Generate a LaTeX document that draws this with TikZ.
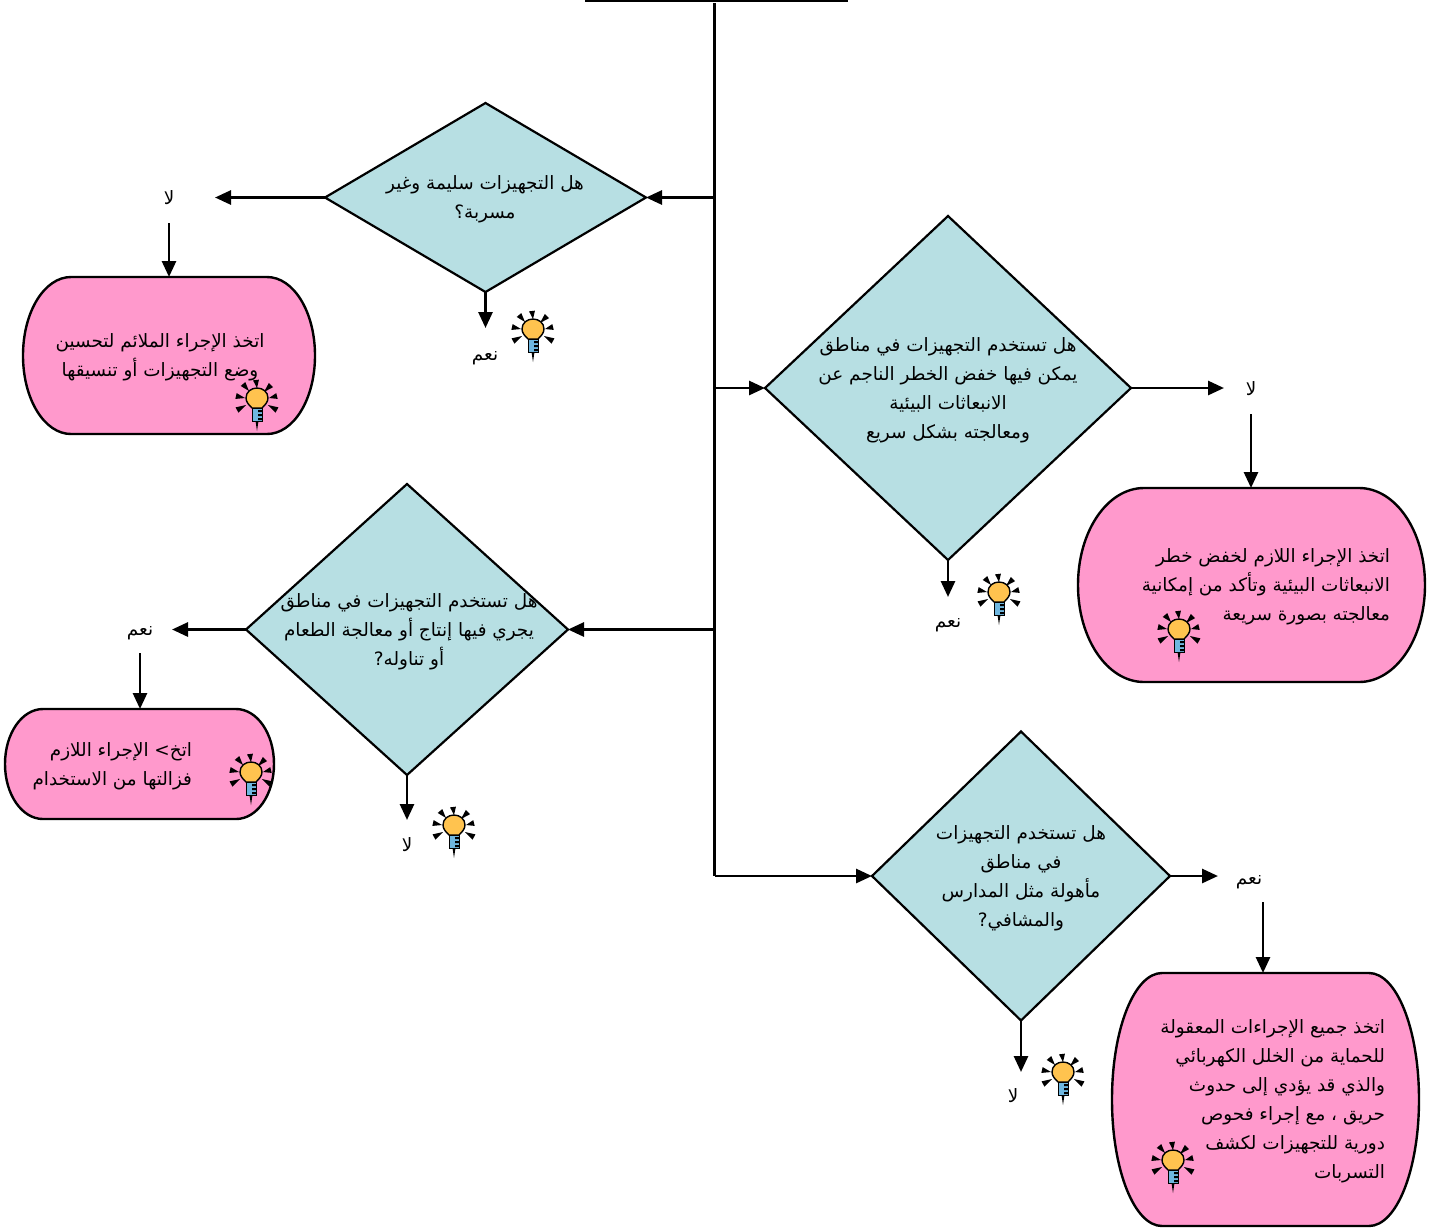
\documentclass[tikz,border=0pt]{standalone}
\usepackage{fontspec}
\usetikzlibrary{shapes.geometric,arrows.meta,calc}
\TeXXeTstate=1
\newfontfamily\arabicfont[Script=Arabic]{DejaVu Sans}
\definecolor{diafill}{HTML}{B7DFE3}
\definecolor{termfill}{HTML}{FF99CC}
\definecolor{bulbfill}{HTML}{FFC34F}
\definecolor{bulbbase}{HTML}{6FB7E0}
\newcommand{\ar}[1]{\beginR #1\endR}
\tikzset{
  line/.style={line width=1.4pt,black},
  arr/.style={line,-{Triangle[length=8pt,width=7pt]}},
  dia/.style={diamond,draw=black,line width=1.1pt,fill=diafill,inner sep=0pt,outer sep=0pt},
  lab/.style={inner sep=0pt,outer sep=0pt,font=\arabicfont\fontsize{9.2}{14.5}\selectfont,align=center},
  txt/.style={inner sep=0pt,outer sep=0pt,font=\arabicfont\fontsize{9.2}{14.5}\selectfont,align=center},
  txtr/.style={txt,align=right,anchor=east},
  termbox/.style={rectangle,inner sep=0pt,outer sep=0pt},
  termline/.style={draw=black,line width=1.2pt,fill=termfill}
}
% name, left, top, right, bottom, corner inset
\newcommand{\termshape}[6]{%
  \node[termbox,minimum width=#4*0.5pt-#2*0.5pt,minimum height=#5*0.5pt-#3*0.5pt] (#1) at ({(#2+#4)/2},{(#3+#5)/2}) {};
  \path[termline] ({#2+#6},#3) -- ({#4-#6},#3)
    .. controls ({#4-0.45*#6},#3) and (#4,{#3+0.22*(#5-#3)}) .. (#4,{(#3+#5)/2})
    .. controls (#4,{#5-0.22*(#5-#3)}) and ({#4-0.45*#6},#5) .. ({#4-#6},#5)
    -- ({#2+#6},#5)
    .. controls ({#2+0.45*#6},#5) and (#2,{#5-0.22*(#5-#3)}) .. (#2,{(#3+#5)/2})
    .. controls (#2,{#3+0.22*(#5-#3)}) and ({#2+0.45*#6},#3) .. ({#2+#6},#3) -- cycle;
}
\newcommand{\bulbicon}[2]{%
  \begin{scope}[shift={(#1,#2)}]
    \foreach \ox/\oy/\ix/\iy in {-1/-19/0/-11, -14/-15/-8/-8, 14/-14/7/-7, -21/-3/-12/-1, 20/-3/12/-1, -20/11/-11/6, 20/11/11/6}{
      \fill[black] ($(\ox,\oy)!1.5pt!90:(\ix,\iy)$) -- ($(\ox,\oy)!1.5pt!-90:(\ix,\iy)$) -- (\ix,\iy) -- cycle;
    }
    \fill[black] (-2.5,15) -- (2.5,15) -- (0,32) -- cycle;
    \path[fill=bulbfill,draw=black,line width=.7pt] (-5,9) .. controls (-8,6) and (-11,3) .. (-11,-1)
      .. controls (-11,-7) and (-6,-11) .. (0,-11) .. controls (6,-11) and (11,-7) .. (11,-1)
      .. controls (11,3) and (8,6) .. (5,9) -- cycle;
    \path[fill=bulbbase,draw=black,line width=.5pt] (-5,9) rectangle (5,22);
    \fill[black] (1,11) rectangle (5,13) (1,15) rectangle (5,17) (1,19) rectangle (5,21);
  \end{scope}
}
\begin{document}
\begin{tikzpicture}[x=0.5pt,y=-0.5pt]
\useasboundingbox (0,0) rectangle (1437,1228);

% spine
\coordinate (tl) at (585,1);
\coordinate (tr) at (848,1);
\coordinate (sp0) at (714.5,3);
\coordinate (sp1) at (714.5,198);
\coordinate (sp2) at (714.5,388);
\coordinate (sp3) at (714.5,629);
\coordinate (sp4) at (714.5,876);

% decisions
\node[dia,minimum width=160.5pt,minimum height=94.5pt] (d1) at (485.5,197.5) {};
\node[dia,minimum width=183pt,minimum height=172pt] (d2) at (948,388) {};
\node[dia,minimum width=161pt,minimum height=145.5pt] (d3) at (407,629.5) {};
\node[dia,minimum width=149pt,minimum height=144.5pt] (d4) at (1021,876) {};

% terminators
\termshape{t1}{23}{277}{315}{434}{48}
\termshape{t2}{1078}{488}{1425}{682}{66}
\termshape{t3}{5}{709}{274}{819}{38}
\termshape{t4}{1112}{973}{1419}{1226}{50}

% answer labels
\node[lab,minimum width=46pt,minimum height=25pt] (l1) at (169,198) {\ar{لا}};
\node[lab,minimum height=30pt] (n1) at (485,358) {\ar{نعم}};
\node[lab,minimum width=27pt,minimum height=25pt] (l2) at (1251,389) {\ar{لا}};
\node[lab,minimum height=28pt] (n2) at (948,625) {\ar{نعم}};
\node[lab,minimum width=32pt,minimum height=20pt] (n3) at (140,633) {\ar{نعم}};
\node[lab,minimum height=25pt] (l3) at (407,845) {\ar{لا}};
\node[lab,minimum width=31pt,minimum height=20pt] (n4) at (1249,882) {\ar{نعم}};
\node[lab,minimum height=24pt] (l4) at (1013,1096) {\ar{لا}};

% connectors
\draw[line] (tl) -- (tr);
\draw[line] (sp0) -- (sp4);
\draw[arr] (sp1 |- d1.east) -- (d1.east);
\draw[arr] (sp2 |- d2.west) -- (d2.west);
\draw[arr] (sp3 |- d3.east) -- (d3.east);
\draw[arr] (sp4 |- d4.west) -- (d4.west);
\draw[arr] (d1.west) -- (d1.west -| l1.east);
\draw[arr] (l1.south) -- (t1.north -| l1.south);
\draw[arr] (d1.south) -- (d1.south |- n1.north);
\draw[arr] (d2.east) -- (d2.east -| l2.west);
\draw[arr] (l2.south) -- (t2.north -| l2.south);
\draw[arr] (d2.south) -- (d2.south |- n2.north);
\draw[arr] (d3.west) -- (d3.west -| n3.east);
\draw[arr] (n3.south) -- (t3.north -| n3.south);
\draw[arr] (d3.south) -- (d3.south |- l3.north);
\draw[arr] (d4.east) -- (d4.east -| n4.west);
\draw[arr] ($(t4.north |- n4.south)+(-2.5,0)$) -- ($(t4.north)+(-2.5,0)$);
\draw[arr] (d4.south) -- (d4.south |- l4.north);

% decision texts
\node[txt] (td1) at (485,199) {\ar{هل التجهيزات سليمة وغير}\\\ar{مسربة؟}};
\node[txt] (td2) at (948,390) {\ar{هل تستخدم التجهيزات في مناطق}\\\ar{يمكن فيها  خفض الخطر الناجم عن}\\\ar{الانبعاثات البيئية}\\\ar{ومعالجته بشكل سريع}};
\node[txt] (td3) at (409,632) {\ar{هل تستخدم التجهيزات في مناطق}\\\ar{يجري فيها إنتاج أو معالجة الطعام}\\\ar{أو تناوله?}};
\node[txt] (td4) at (1021,878) {\ar{هل تستخدم التجهيزات}\\\ar{في مناطق}\\\ar{مأهولة مثل المدارس}\\\ar{والمشافي?}};

% action texts
\node[txt] (tt1) at (160,357) {\ar{اتخذ الإجراء الملائم لتحسين}\\\ar{وضع التجهيزات أو تنسيقها}};
\node[txtr] (tt2) at (1390,587) {\ar{اتخذ الإجراء اللازم لخفض خطر}\\\ar{الانبعاثات البيئية وتأكد من إمكانية}\\\ar{معالجته بصورة سريعة}};
\node[txtr] (tt3) at (192,766) {\ar{اتخ> الإجراء اللازم}\\\ar{فزالتها من الاستخدام}};
\node[txtr] (tt4) at (1385,1101) {\ar{اتخذ جميع الإجراءات المعقولة}\\\ar{للحماية من الخلل الكهربائي}\\\ar{والذي قد يؤدي إلى حدوث}\\\ar{حريق ، مع إجراء فحوص}\\\ar{دورية للتجهيزات لكشف}\\\ar{التسربات}};

% bulbs
\bulbicon{533}{330}
\bulbicon{257}{399}
\bulbicon{999}{593}
\bulbicon{1179}{630}
\bulbicon{251}{773}
\bulbicon{454}{826}
\bulbicon{1063}{1073}
\bulbicon{1173}{1161}
\end{tikzpicture}
\end{document}
